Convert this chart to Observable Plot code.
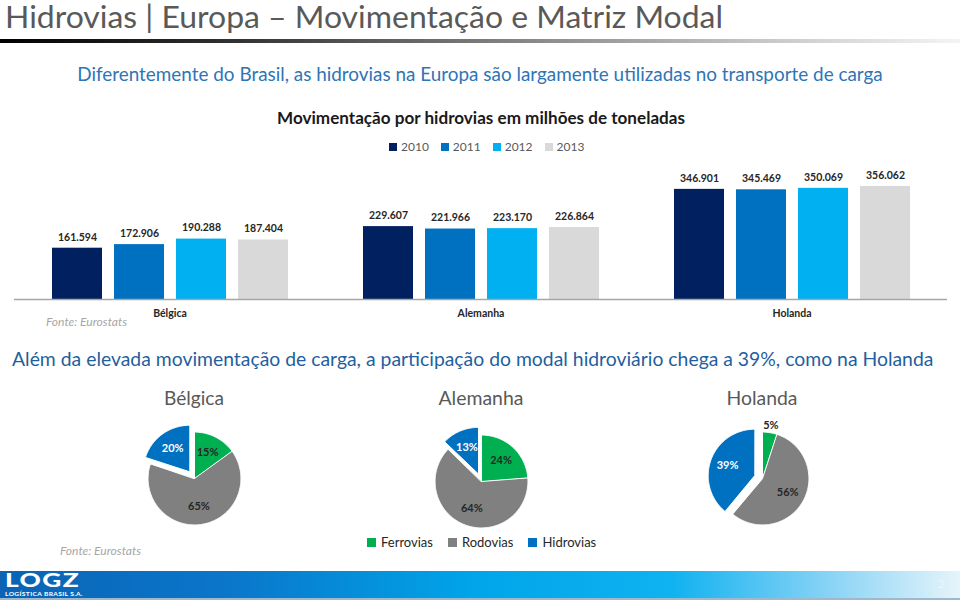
<!DOCTYPE html>
<html><head><meta charset="utf-8">
<script src="https://cdn.jsdelivr.net/npm/d3@7"></script>
<script src="https://cdn.jsdelivr.net/npm/@observablehq/plot@0.6"></script>
<style>
body{margin:0;background:#fff;}
#slide{position:relative;width:960px;height:605px;overflow:hidden;font-family:Lato,"Open Sans",sans-serif;background:#fff;}
.abs{position:absolute;white-space:nowrap;line-height:1;}
.lg{position:absolute;}
.lg div{min-height:0 !important;margin:0 !important;}
.lg span{margin-right:0 !important;}
.lgA span{margin-right:12px !important;font-size:12px;color:#595959;}
.lgA svg{margin-right:4px !important;}
.lgB span{margin-right:15px !important;font-size:13px;color:#262626;}
.lgB svg{margin-right:5px !important;}
</style></head><body><div id="slide"></div>
<script>
// ---------- data ----------
const countries = ["Bélgica", "Alemanha", "Holanda"];
const years = ["2010", "2011", "2012", "2013"];
const belgica = [161.594, 172.906, 190.288, 187.404];
const alemanha = [229.607, 221.966, 223.170, 226.864];
const holanda = [346.901, 345.469, 350.069, 356.062];
const yearColors = ["#002060", "#0070C0", "#00B0F0", "#D9D9D9"];
const modes = ["Ferrovias", "Rodovias", "Hidrovias"];
const shareBelgica = [15, 65, 20];
const shareAlemanha = [24, 64, 13];
const shareHolanda = [5, 56, 39];
const modeColors = ["#00B050", "#808080", "#0070C0"];

const slide = document.getElementById("slide");
const FONT = "Lato, 'Open Sans', sans-serif";

function addText(txt, o) {
  const el = document.createElement("div");
  el.className = "abs";
  el.textContent = txt;
  el.style.color = o.color || "#262626";
  el.style.fontWeight = o.weight || "normal";
  el.style.fontStyle = o.style || "normal";
  if (o.spacing) el.style.letterSpacing = o.spacing + "px";
  let size = o.size;
  el.style.fontSize = size + "px";
  slide.appendChild(el);
  if (o.fitW) {
    for (let k = 0; k < 3; k++) {
      const w = el.getBoundingClientRect().width;
      size = size * o.fitW / w;
      el.style.fontSize = size + "px";
    }
  }
  let w = el.getBoundingClientRect().width;
  if (o.fitX) {
    el.style.transformOrigin = "0 50%";
    el.style.transform = "scaleX(" + (o.fitX / w) + ")";
    w = o.fitX;
  }
  let left = o.x;
  if (o.anchor === "middle") left = o.x - w / 2;
  el.style.left = left + "px";
  el.style.top = Math.max(0, o.y - 0.55 * size) + "px";
  return el;
}
function place(node, left, top, cls) {
  const wrap = document.createElement("div");
  wrap.style.position = "absolute";
  wrap.style.left = left + "px";
  wrap.style.top = top + "px";
  if (cls) wrap.className = cls;
  wrap.appendChild(node);
  slide.appendChild(wrap);
  return wrap;
}

// ---------- title & decoration ----------
addText("Hidrovias | Europa – Movimentação e Matriz Modal", {x: 5, y: 17, size: 30, color: "#595959", fitX: 718});
const bar1 = document.createElement("div");
Object.assign(bar1.style, {position: "absolute", left: "0px", top: "39px", width: "960px", height: "4px",
  background: "linear-gradient(to right, #000 0%, #333 25%, #888 55%, #c8c8c8 80%, #f4f4f4 100%)"});
slide.appendChild(bar1);

addText("Diferentemente do Brasil, as hidrovias na Europa são largamente utilizadas no transporte de carga",
  {x: 480, y: 75, size: 17, color: "#2E75B6", anchor: "middle", fitW: 805});
addText("Movimentação por hidrovias em milhões de toneladas",
  {x: 481, y: 118, size: 15, color: "#1a1a1a", weight: "bold", anchor: "middle", fitW: 408});

// ---------- bar legend ----------
const legA = Plot.legend({color: {domain: years, range: yearColors}, legend: "swatches", swatchSize: 8,
  style: {fontFamily: FONT, fontSize: "12px", color: "#595959"}});
place(legA, 389, 139, "lg lgA");

// ---------- bar chart ----------
const barData = countries.flatMap((c, i) => years.map((yr, j) => ({country: c, year: yr, value: [belgica, alemanha, holanda][i][j]})));
const fmt = d3.format(".3f");
const barChart = Plot.plot({
  width: 960, height: 165, marginTop: 12, marginBottom: 26, marginLeft: 13, marginRight: 12,
  style: {fontFamily: FONT, background: "transparent", overflow: "visible"},
  fx: {domain: countries, padding: 0, label: null},
  x: {domain: years, paddingInner: 0.2, paddingOuter: 0.594, axis: null},
  y: {domain: [0, 400], axis: null},
  color: {domain: years, range: yearColors},
  marks: [
    Plot.barY(barData, {fx: "country", x: "year", y: "value", fill: "year"}),
    Plot.ruleY([0], {stroke: "#a6a6a6", strokeWidth: 1.5}),
    Plot.text(barData, {fx: "country", x: "year", y: "value", text: d => fmt(d.value), dy: -11,
      fontWeight: "bold", fontSize: 10.5, fill: "#262626"}),
    Plot.axisFx({anchor: "bottom", tickSize: 0, tickPadding: 10, fontWeight: "bold", fontSize: 10.5, fill: "#262626", label: null})
  ]
});
place(barChart, 0, 160);

addText("Fonte: Eurostats", {x: 46, y: 323, size: 11, color: "#a6a6a6", style: "italic", fitW: 81});

// ---------- heading ----------
addText("Além da elevada movimentação de carga, a participação do modal hidroviário chega a 39%, como na Holanda",
  {x: 12, y: 360, size: 18, color: "#1F5F9E", fitW: 921});

// ---------- pies ----------
function pieChart(shares) {
  const total = d3.sum(shares);
  const arcs = d3.pie().sort(null).value(d => d)(shares);
  const pts = [], labels = [];
  arcs.forEach((a, i) => {
    const mode = modes[i];
    const e = mode === "Hidrovias" ? 0.18 : 0;
    const mid = (a.startAngle + a.endAngle) / 2;
    const ox = e * Math.sin(mid), oy = e * Math.cos(mid);
    pts.push({mode, x: ox, y: oy});
    const n = Math.max(2, Math.ceil((a.endAngle - a.startAngle) / 0.02));
    for (let k = 0; k <= n; k++) {
      const t = a.startAngle + (a.endAngle - a.startAngle) * k / n;
      pts.push({mode, x: ox + Math.sin(t), y: oy + Math.cos(t)});
    }
    const rho = a.value / total < 0.08 ? 1.15 : 0.62 + e;
    labels.push({mode, x: rho * Math.sin(mid), y: rho * Math.cos(mid), text: a.value + "%"});
  });
  return Plot.plot({
    width: 130, height: 130, margin: 0,
    style: {fontFamily: FONT, background: "transparent", overflow: "visible"},
    x: {domain: [-1.4, 1.4], axis: null},
    y: {domain: [-1.4, 1.4], axis: null},
    color: {domain: modes, range: modeColors},
    marks: [
      Plot.line(pts, {x: "x", y: "y", z: "mode", fill: "mode", stroke: "white", strokeWidth: 1, curve: "linear-closed"}),
      Plot.text(labels, {filter: d => d.mode === "Hidrovias", x: "x", y: "y", text: "text", fill: "white", fontWeight: "bold", fontSize: 11}),
      Plot.text(labels, {filter: d => d.mode !== "Hidrovias", x: "x", y: "y", text: "text", fill: "#262626", fontWeight: "bold", fontSize: 11})
    ]
  });
}
const pieCenters = [[194, 478], [481, 481], [762, 478]];
const pieShares = [shareBelgica, shareAlemanha, shareHolanda];
const pieTitleW = [60, 85, 71];
countries.forEach((c, i) => {
  const [cx, cy] = pieCenters[i];
  place(pieChart(pieShares[i]), cx - 65, cy - 65);
  addText(c, {x: cx, y: 399, size: 19, color: "#595959", anchor: "middle", fitW: pieTitleW[i]});
});

// ---------- pie legend ----------
const legB = Plot.legend({color: {domain: modes, range: modeColors}, legend: "swatches", swatchSize: 9,
  style: {fontFamily: FONT, fontSize: "13px", color: "#262626"}});
place(legB, 367, 534, "lg lgB");

addText("Fonte: Eurostats", {x: 60, y: 552, size: 11, color: "#a6a6a6", style: "italic", fitW: 81});

// ---------- footer ----------
const foot = document.createElement("div");
Object.assign(foot.style, {position: "absolute", left: "0px", top: "571px", width: "960px", height: "27px",
  background: "linear-gradient(to right, #0b63b4 0%, #0a78cc 25%, #00a6ea 50%, #10b2f0 70%, #7fd0f5 85%, #e6f4fb 100%)",
  borderBottom: "2px solid #9fb8cc"});
slide.appendChild(foot);
addText("LOGZ", {x: 5, y: 580, size: 19, color: "#fff", weight: "900", spacing: 1, fitX: 75});
addText("LOGÍSTICA BRASIL S.A.", {x: 5, y: 594.5, size: 6, color: "#fff", weight: "bold", spacing: 0.3, fitX: 78});
addText("2", {x: 938, y: 585, size: 12, color: "#e8f6fd"});
</script>
</body></html>
